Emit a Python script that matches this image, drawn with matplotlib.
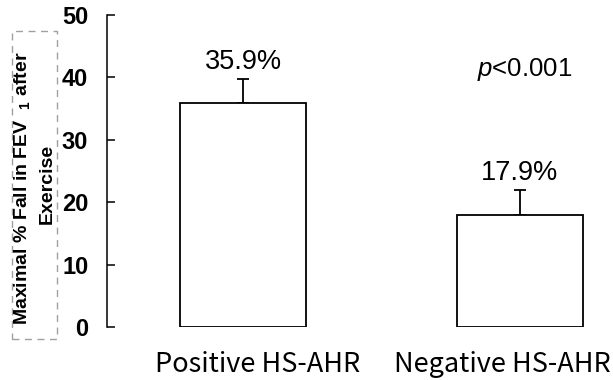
import matplotlib
matplotlib.use('Agg')
import matplotlib.pyplot as plt
from matplotlib.patches import Rectangle

# Data
groups = ['Positive HS-AHR', 'Negative HS-AHR']
means = [35.9, 17.9]
errors = [3.9, 4.1]
value_labels = ['35.9%', '17.9%']
yticks = [0, 10, 20, 30, 40, 50]

plt.rcParams['font.family'] = ['Liberation Sans', 'DejaVu Sans']
plt.rcParams['mathtext.fontset'] = 'custom'
plt.rcParams['mathtext.it'] = 'Liberation Sans:italic'
plt.rcParams['mathtext.rm'] = 'Liberation Sans'

fig = plt.figure(figsize=(6.13, 3.8), dpi=100)
ax = fig.add_axes([107 / 613, 53 / 380, 493 / 613, 312 / 380])

x = [0, 1]
ax.bar(x, means, width=0.455, color='white', edgecolor='black', linewidth=1.3, zorder=2)
ax.errorbar(x, means, yerr=[[0, 0], errors], fmt='none', ecolor='black',
            elinewidth=1.3, capsize=4, capthick=1.3, zorder=1)

for xi, m, e, lab in zip(x, means, errors, value_labels):
    ax.text(xi, m + e + 2.7, lab, ha='center', va='center', fontsize=19.5)

ax.text(1.018, 41.2, r'$\mathit{p}$<0.001', ha='center', va='center', fontsize=18.5)

ax.set_xlim(-0.491, 1.289)
ax.set_ylim(0, 50)
ax.set_yticks(yticks)
ax.set_yticklabels([str(t) for t in yticks], fontsize=17, fontweight='bold')
ax.tick_params(axis='y', direction='in', length=6, width=1.1, pad=13.5)
ax.set_xticks([])
for s in ['top', 'right', 'bottom']:
    ax.spines[s].set_visible(False)
ax.spines['left'].set_linewidth(1.1)

# category labels under the bars
kr = ['Noto Sans CJK KR', 'DejaVu Sans']
ax.text(0.054, -5.95, groups[0], ha='center', va='center', fontsize=19.5, family=kr)
ax.text(0.935, -5.95, groups[1], ha='center', va='center', fontsize=19.5, family=kr)

# y label in a dashed box
fig.text(22 / 613, 1 - 188 / 380, r'Maximal % Fall in FEV  $\mathregular{_1}$ after',
         rotation=90, ha='center', va='center', fontsize=14, fontweight='bold')
fig.text(47 / 613, 1 - 184 / 380, 'Exercise', rotation=90, ha='center', va='center',
         fontsize=14, fontweight='bold')
fig.patches.append(Rectangle((12 / 613, 1 - 339 / 380), 45 / 613, 308 / 380,
                             transform=fig.transFigure, fill=False, ec='#a0a0a0',
                             ls=(0, (5, 4)), lw=1))

plt.savefig('out.png', dpi=100)
